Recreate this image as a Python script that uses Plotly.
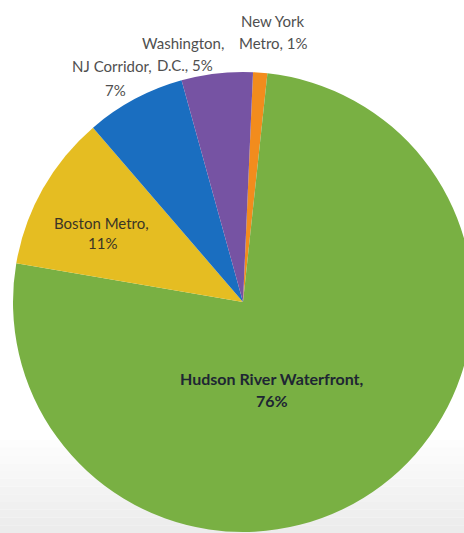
import plotly.graph_objects as go

# ---- data ----
categories = ["New York Metro", "Hudson River Waterfront", "Boston Metro", "NJ Corridor", "Washington, D.C."]
values = [1, 76, 11, 7, 5]
label_lines = [
    ["New York", "Metro, 1%"],
    ["Hudson River Waterfront,", "76%"],
    ["Boston Metro,", "11%"],
    ["NJ Corridor,", "7%"],
    ["Washington,", "D.C., 5%"],
]

# ---- style ----
colors = ["#f28c1d", "#79b043", "#e5bd22", "#1a6ec0", "#7653a3"]
W, H = 480, 533
# label line pixel centres (x, y) for each category line
label_pos = [
    [(272, 21), (273, 43)],
    [(272, 378), (272, 400)],
    [(101, 223), (102, 243)],
    [(112, 66), (115, 90)],
    [(183, 43), (185, 65)],
]
label_style = [
    dict(color="#4f4f4f", weight="normal", size=15),
    dict(color="#1e2633", weight="bold", size=16),
    dict(color="#3a3526", weight="normal", size=15),
    dict(color="#4f4f4f", weight="normal", size=15),
    dict(color="#4f4f4f", weight="normal", size=15),
]

fig = go.Figure()
fig.add_trace(go.Pie(
    labels=categories,
    values=values,
    sort=False,
    direction="clockwise",
    rotation=2.5,
    marker=dict(colors=colors, line=dict(width=0)),
    textinfo="none",
    hoverinfo="label+percent",
    showlegend=False,
    domain=dict(x=[13 / W, 473 / W], y=[1 / H, 461 / H]),
))

annotations = []
for lines, poss, st in zip(label_lines, label_pos, label_style):
    for txt, (px, py) in zip(lines, poss):
        annotations.append(dict(
            text=txt, x=px / W, y=1 - py / H, xref="paper", yref="paper",
            xanchor="center", yanchor="middle", showarrow=False,
            font=dict(family="Lato, Open Sans, sans-serif", size=st["size"],
                      color=st["color"], weight=st["weight"]),
        ))

# subtle gray gradient at the bottom of the background
shapes = []
grad_top, steps = 440, 12
for i in range(steps):
    y0 = grad_top + (H - grad_top) * i / steps
    y1 = grad_top + (H - grad_top) * (i + 1) / steps
    g = int(255 - (255 - 236) * (i + 1) / steps)
    shapes.append(dict(type="rect", xref="paper", yref="paper", layer="below",
                       x0=0, x1=1, y0=1 - y1 / H, y1=1 - y0 / H,
                       fillcolor=f"rgb({g},{g},{g})", line=dict(width=0)))

fig.update_layout(
    width=W, height=H,
    margin=dict(l=0, r=0, t=0, b=0),
    paper_bgcolor="white",
    plot_bgcolor="white",
    annotations=annotations,
    shapes=shapes,
)

fig.write_html(
    "out.html",
    config={"displayModeBar": False},
    post_script="document.body.style.margin='0';document.body.style.overflow='hidden';",
)
